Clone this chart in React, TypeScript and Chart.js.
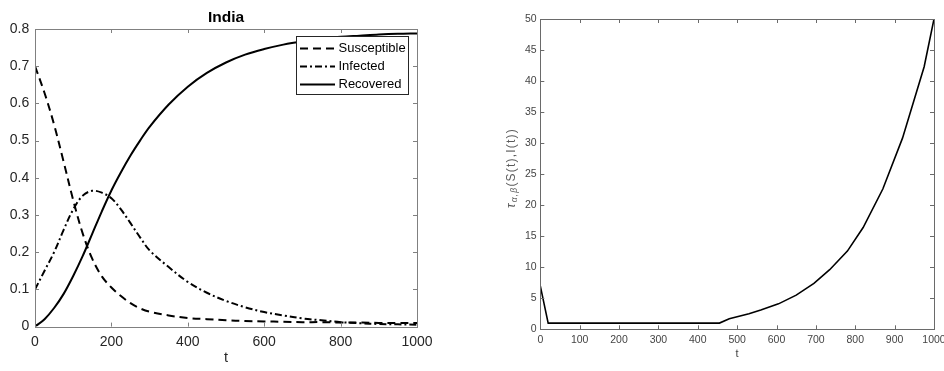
import React, { useEffect, useRef } from "react";
import { Chart, registerables } from "chart.js";
Chart.register(...registerables);

// ---- Left panel: SIR fractions for India ----
const sirT = [0, 25, 50, 75, 100, 125, 150, 175, 200, 225, 250, 275, 300, 350, 400, 450, 500, 550, 600, 650, 700, 750, 800, 850, 900, 950, 1000];
const susceptible = [0.70, 0.628, 0.543, 0.443, 0.34, 0.25, 0.182, 0.135, 0.105, 0.082, 0.063, 0.049, 0.04, 0.03, 0.023, 0.02, 0.017, 0.015, 0.014, 0.013, 0.012, 0.012, 0.011, 0.011, 0.01, 0.01, 0.01];
const infected = [0.10, 0.15, 0.20, 0.26, 0.315, 0.352, 0.365, 0.36, 0.345, 0.315, 0.278, 0.24, 0.205, 0.16, 0.12, 0.091, 0.069, 0.052, 0.039, 0.03, 0.022, 0.017, 0.012, 0.009, 0.007, 0.006, 0.005];
const recovered = [0, 0.02, 0.05, 0.088, 0.136, 0.19, 0.25, 0.31, 0.366, 0.415, 0.46, 0.5, 0.537, 0.597, 0.645, 0.682, 0.71, 0.731, 0.746, 0.758, 0.767, 0.774, 0.779, 0.782, 0.785, 0.787, 0.788];
const sirLabels = ["Susceptible", "Infected", "Recovered"];
const sirTitle = "India";
const sirXTicks = [0, 200, 400, 600, 800, 1000];
const sirYTicks = [0, 0.1, 0.2, 0.3, 0.4, 0.5, 0.6, 0.7, 0.8];

// ---- Right panel: tau_{alpha,beta}(S(t),I(t)) ----
const tauT = [0, 20, 455, 480, 530, 560, 605, 650, 695, 735, 780, 820, 870, 920, 975, 1000];
const tauV = [7, 1, 1, 1.7, 2.5, 3.1, 4.1, 5.5, 7.4, 9.6, 12.6, 16.4, 22.6, 30.8, 42.3, 50];
const tauXTicks = [0, 100, 200, 300, 400, 500, 600, 700, 800, 900, 1000];
const tauYTicks = [0, 5, 10, 15, 20, 25, 30, 35, 40, 45, 50];

const FONT = "'Liberation Sans', Arial, Helvetica, sans-serif";

const matlabAxes = {
  id: "matlabAxes",
  afterDatasetsDraw(chart: any, _args: any, opts: any) {
    const { ctx, chartArea: a, scales } = chart;
    const len = opts.tickLen ?? 4;
    ctx.save();
    ctx.strokeStyle = opts.color ?? "#808080";
    ctx.lineWidth = 1;
    ctx.setLineDash([]);
    ctx.beginPath();
    for (const t of scales.x.ticks) {
      const px = Math.round(scales.x.getPixelForValue(t.value)) + 0.5;
      ctx.moveTo(px, a.bottom);
      ctx.lineTo(px, a.bottom - len);
      ctx.moveTo(px, a.top);
      ctx.lineTo(px, a.top + len);
    }
    for (const t of scales.y.ticks) {
      const py = Math.round(scales.y.getPixelForValue(t.value)) + 0.5;
      ctx.moveTo(a.left, py);
      ctx.lineTo(a.left + len, py);
      ctx.moveTo(a.right, py);
      ctx.lineTo(a.right - len, py);
    }
    ctx.stroke();
    ctx.strokeRect(Math.round(a.left) + 0.5, Math.round(a.top) + 0.5, Math.round(a.right) - Math.round(a.left), Math.round(a.bottom) - Math.round(a.top));
    ctx.restore();
  },
};

const sirDecor = {
  id: "sirDecor",
  afterDraw(chart: any) {
    const { ctx, chartArea: a } = chart;
    ctx.save();
    // title
    ctx.fillStyle = "#000";
    ctx.font = `bold 15.5px ${FONT}`;
    ctx.textAlign = "center";
    ctx.textBaseline = "alphabetic";
    ctx.fillText(sirTitle, (a.left + a.right) / 2, 21.7);
    // legend
    const x0 = 296.5, y0 = 36.5, w = 112, h = 58;
    ctx.fillStyle = "#fff";
    ctx.fillRect(x0, y0, w, h);
    ctx.strokeStyle = "#262626";
    ctx.lineWidth = 1;
    ctx.strokeRect(x0, y0, w, h);
    const rows = [48.5, 66.5, 84.5];
    ctx.font = `13px ${FONT}`;
    ctx.textAlign = "left";
    ctx.textBaseline = "middle";
    chart.data.datasets.forEach((ds: any, i: number) => {
      ctx.strokeStyle = ds.borderColor;
      ctx.lineWidth = ds.borderWidth;
      ctx.setLineDash(ds.borderDash || []);
      ctx.beginPath();
      ctx.moveTo(300, rows[i]);
      ctx.lineTo(335, rows[i]);
      ctx.stroke();
      ctx.setLineDash([]);
      ctx.fillStyle = "#000";
      ctx.fillText(ds.label, 338.5, rows[i]);
    });
    ctx.restore();
  },
};

const tauLabel = {
  id: "tauLabel",
  afterDraw(chart: any) {
    const { ctx } = chart;
    ctx.save();
    ctx.fillStyle = "#5a5a5a";
    const cx = 51.5;
    const cy = 168;
    ctx.translate(cx, cy);
    ctx.rotate(-Math.PI / 2);
    ctx.textBaseline = "middle";
    ctx.textAlign = "left";
    (ctx as any).letterSpacing = "1.2px";
    const f1 = `italic 12px ${FONT}`;
    const f2 = `italic 8.5px ${FONT}`;
    const f3 = `12px ${FONT}`;
    ctx.font = f1; const w1 = ctx.measureText("τ").width;
    ctx.font = f2; const w2 = ctx.measureText("α,β").width;
    ctx.font = f3; const w3 = ctx.measureText("(S(t),I(t))").width;
    const total = w1 + w2 + w3;
    let x = -total / 2;
    ctx.font = f1; ctx.fillText("τ", x, 0); x += w1;
    ctx.font = f2; ctx.fillText("α,β", x, 3.5); x += w2;
    ctx.font = f3; ctx.fillText("(S(t),I(t))", x, 0);
    ctx.restore();
  },
};

function toXY(xs: number[], ys: number[]) {
  return xs.map((x, i) => ({ x, y: ys[i] }));
}

function SirChart() {
  const ref = useRef<HTMLCanvasElement>(null);
  useEffect(() => {
    const chart = new Chart(ref.current!, {
      type: "line",
      data: {
        datasets: [
          { label: sirLabels[0], data: toXY(sirT, susceptible), borderColor: "#000", borderWidth: 2, borderDash: [8, 5], pointRadius: 0, tension: 0.35, fill: false },
          { label: sirLabels[1], data: toXY(sirT, infected), borderColor: "#000", borderWidth: 2, borderDash: [7, 3, 2, 3], pointRadius: 0, tension: 0.35, fill: false },
          { label: sirLabels[2], data: toXY(sirT, recovered), borderColor: "#000", borderWidth: 2, pointRadius: 0, tension: 0.35, fill: false },
        ] as any,
      },
      options: {
        animation: false,
        responsive: false,
        events: [],
        layout: { padding: { left: 0, top: 29, right: 43, bottom: 0 } },
        plugins: {
          legend: { display: false },
          tooltip: { enabled: false },
          matlabAxes: { color: "#808080", tickLen: 4 },
        } as any,
        scales: {
          x: {
            type: "linear",
            min: 0,
            max: 1000,
            afterBuildTicks: (s: any) => { s.ticks = sirXTicks.map((v) => ({ value: v })); },
            afterFit: (s: any) => { s.height = 44.4; s.paddingLeft = 0; s.paddingRight = 0; },
            grid: { display: false, drawTicks: false },
            border: { display: false },
            ticks: { color: "#262626", font: { family: FONT, size: 14 }, padding: 7.2, maxRotation: 0, callback: (v: any) => String(v) },
            title: { display: true, text: "t", color: "#262626", font: { family: FONT, size: 14.5 }, padding: { top: 0, bottom: 4 } },
          },
          y: {
            type: "linear",
            min: 0,
            max: 0.8,
            afterBuildTicks: (s: any) => { s.ticks = sirYTicks.map((v) => ({ value: v })); },
            afterFit: (s: any) => { s.width = 35; s.paddingTop = 0; s.paddingBottom = 0; },
            grid: { display: false, drawTicks: false },
            border: { display: false },
            ticks: { color: "#262626", font: { family: FONT, size: 14 }, padding: 5.7, callback: (v: any) => String(+Number(v).toFixed(1)) },
          },
        },
      },
      plugins: [matlabAxes, sirDecor],
    });
    return () => chart.destroy();
  }, []);
  return <canvas ref={ref} width={460} height={371} style={{ position: "absolute", left: 0, top: 0, width: 460, height: 371 }} />;
}

function TauChart() {
  const ref = useRef<HTMLCanvasElement>(null);
  useEffect(() => {
    const chart = new Chart(ref.current!, {
      type: "line",
      data: {
        datasets: [
          { label: "tau", data: toXY(tauT, tauV), borderColor: "#000", borderWidth: 1.6, pointRadius: 0, tension: 0, fill: false },
        ] as any,
      },
      options: {
        animation: false,
        responsive: false,
        events: [],
        layout: { padding: { left: 0, top: 19, right: 10, bottom: 0 } },
        plugins: {
          legend: { display: false },
          tooltip: { enabled: false },
          matlabAxes: { color: "#6a6a6a", tickLen: 4 },
        } as any,
        scales: {
          x: {
            type: "linear",
            min: 0,
            max: 1000,
            afterBuildTicks: (s: any) => { s.ticks = tauXTicks.map((v) => ({ value: v })); },
            afterFit: (s: any) => { s.height = 41.7; s.paddingLeft = 0; s.paddingRight = 0; },
            grid: { display: false, drawTicks: false },
            border: { display: false },
            ticks: { color: "#444", font: { family: FONT, size: 10.5 }, padding: 4.4, maxRotation: 0, autoSkip: false, callback: (v: any) => String(v) },
            title: { display: true, text: "t", color: "#444", font: { family: FONT, size: 11 }, padding: { top: 0, bottom: 10.4 } },
          },
          y: {
            type: "linear",
            min: 0,
            max: 50,
            afterBuildTicks: (s: any) => { s.ticks = tauYTicks.map((v) => ({ value: v })); },
            afterFit: (s: any) => { s.width = 80.3; s.paddingTop = 0; s.paddingBottom = 0; },
            grid: { display: false, drawTicks: false },
            border: { display: false },
            ticks: { color: "#444", font: { family: FONT, size: 10.5 }, padding: 3.6, autoSkip: false, callback: (v: any) => String(v) },
          },
        },
      },
      plugins: [matlabAxes, tauLabel],
    });
    return () => chart.destroy();
  }, []);
  return <canvas ref={ref} width={484} height={371} style={{ position: "absolute", left: 460, top: 0, width: 484, height: 371 }} />;
}

export default function App() {
  return (
    <div style={{ position: "absolute", left: 0, top: 0, width: 944, height: 371, background: "#fff", overflow: "hidden" }}>
      <SirChart />
      <TauChart />
    </div>
  );
}
